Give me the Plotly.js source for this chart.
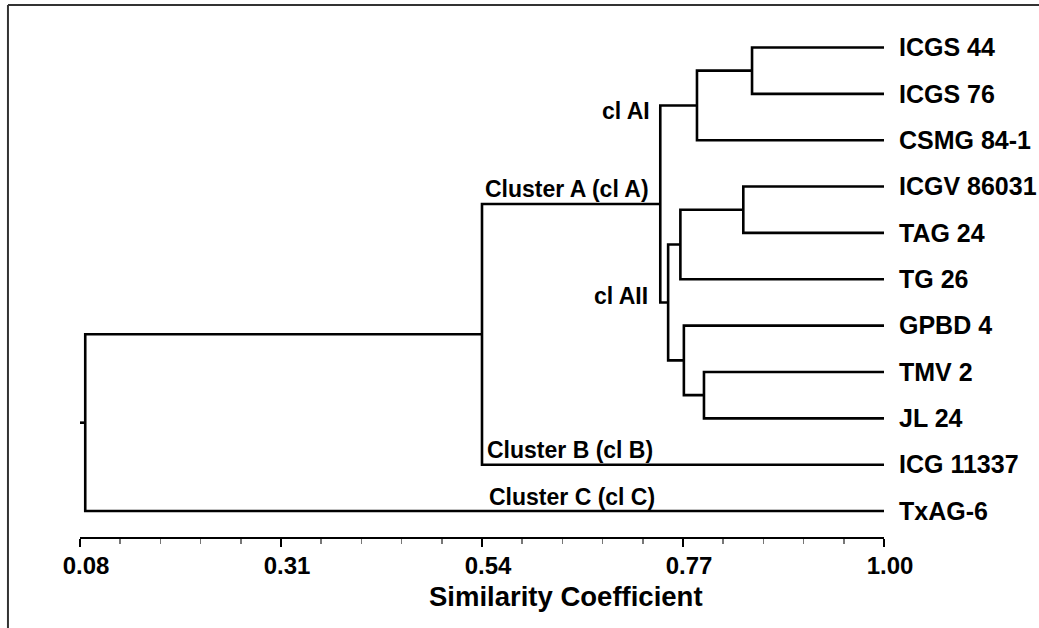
<!DOCTYPE html>
<html>
<head>
<meta charset="utf-8">
<script src="https://cdn.plot.ly/plotly-3.0.1.min.js"></script>
<style>html,body{margin:0;padding:0;background:#fff;}#chart{width:1039px;height:628px;}</style>
</head>
<body>
<div id="chart"></div>
<script>
// Leaves (top to bottom)
const leaves = ["ICGS 44","ICGS 76","CSMG 84-1","ICGV 86031","TAG 24","TG 26","GPBD 4","TMV 2","JL 24","ICG 11337","TxAG-6"];
// Merges: node index = leaves.length + merge index
const mergeA = [0, 11, 3, 13, 7, 6, 14, 12, 18, 19];
const mergeB = [1, 2, 4, 5, 8, 15, 16, 17, 9, 10];
const mergeHeight = [0.849, 0.786, 0.839, 0.767, 0.794, 0.771, 0.753, 0.744, 0.540, 0.086];
const leafSimilarity = 1.00;
const rootStart = 0.08;
// Axis ticks
const tickValues = [0.08, 0.31, 0.54, 0.77, 1.00];
const tickLabels = ["0.08", "0.31", "0.54", "0.77", "1.00"];
// Cluster labels
const clusterText = ["Cluster A (cl A)", "cl AI", "cl AII", "Cluster B (cl B)", "Cluster C (cl C)"];
const clusterX = [0.541, 0.7345, 0.732, 0.5434, 0.5457];
const clusterY = [3.05, 1.37, 5.36, 8.68, 9.70];
const clusterAnchor = ["left", "right", "right", "left", "left"];

// Build dendrogram geometry
const nodeH = [], nodeY = [];
leaves.forEach((l, i) => { nodeH.push(leafSimilarity); nodeY.push(i); });
const xs = [], ys = [];
mergeA.forEach((a, k) => {
  const b = mergeB[k], h = mergeHeight[k];
  xs.push(nodeH[a], h, h, nodeH[b], null);
  ys.push(nodeY[a], nodeY[a], nodeY[b], nodeY[b], null);
  nodeH.push(h); nodeY.push((nodeY[a] + nodeY[b]) / 2);
});
const root = nodeH.length - 1;
xs.push(nodeH[root], rootStart, null);
ys.push(nodeY[root], nodeY[root], null);

const font = "Liberation Sans, Arial, sans-serif";
const traces = [{
  x: xs, y: ys, type: "scatter", mode: "lines",
  line: {color: "#000", width: 2.6}, hoverinfo: "skip", showlegend: false, cliponaxis: false
}];

const annotations = clusterText.map((t, i) => ({
  text: t, x: clusterX[i], y: clusterY[i], xref: "x", yref: "y",
  xanchor: clusterAnchor[i], yanchor: "middle", showarrow: false,
  font: {family: font, size: 23, color: "#000", weight: "bold"}
}));
annotations.push({
  text: "Similarity Coefficient", xref: "paper", yref: "paper", x: 0.605, y: -0.116,
  xanchor: "center", yanchor: "middle", showarrow: false,
  font: {family: font, size: 27.5, color: "#000", weight: "bold"}
});

const layout = {
  width: 1039, height: 628,
  margin: {l: 80, r: 155, t: 20, b: 91, pad: 0},
  paper_bgcolor: "#fff", plot_bgcolor: "#fff",
  showlegend: false,
  xaxis: {
    range: [0.08, 1.00], showgrid: false, zeroline: false,
    showline: true, linecolor: "#000", linewidth: 2,
    tickmode: "array", tickvals: tickValues, ticktext: tickLabels,
    ticks: "outside", ticklen: 8, tickwidth: 2, tickcolor: "#000",
    ticklabelstandoff: -2, ticklabelshift: 6,
    tickfont: {family: font, size: 24, color: "#000", weight: "bold"},
    minor: {tick0: 0.08, dtick: 0.046, ticks: "outside", ticklen: 5, tickwidth: 1.5, tickcolor: "#777", showgrid: false},
    fixedrange: true
  },
  yaxis: {
    range: [10.56, -0.593], side: "right", showgrid: false, zeroline: false, showline: false,
    tickmode: "array", tickvals: leaves.map((l, i) => i), ticktext: leaves,
    ticks: "", ticklabelstandoff: 14,
    tickfont: {family: font, size: 25, color: "#000", weight: "bold"},
    fixedrange: true
  },
  annotations: annotations,
  shapes: [
    {type: "line", xref: "paper", yref: "paper", x0: -0.0896, x1: 1.2, y0: 1.029, y1: 1.029, line: {color: "#333", width: 2}},
    {type: "line", xref: "paper", yref: "paper", x0: -0.0896, x1: -0.0896, y0: 1.029, y1: -0.2, line: {color: "#333", width: 2}}
  ]
};

Plotly.newPlot("chart", traces, layout, {staticPlot: true, displayModeBar: false});
</script>
</body>
</html>
